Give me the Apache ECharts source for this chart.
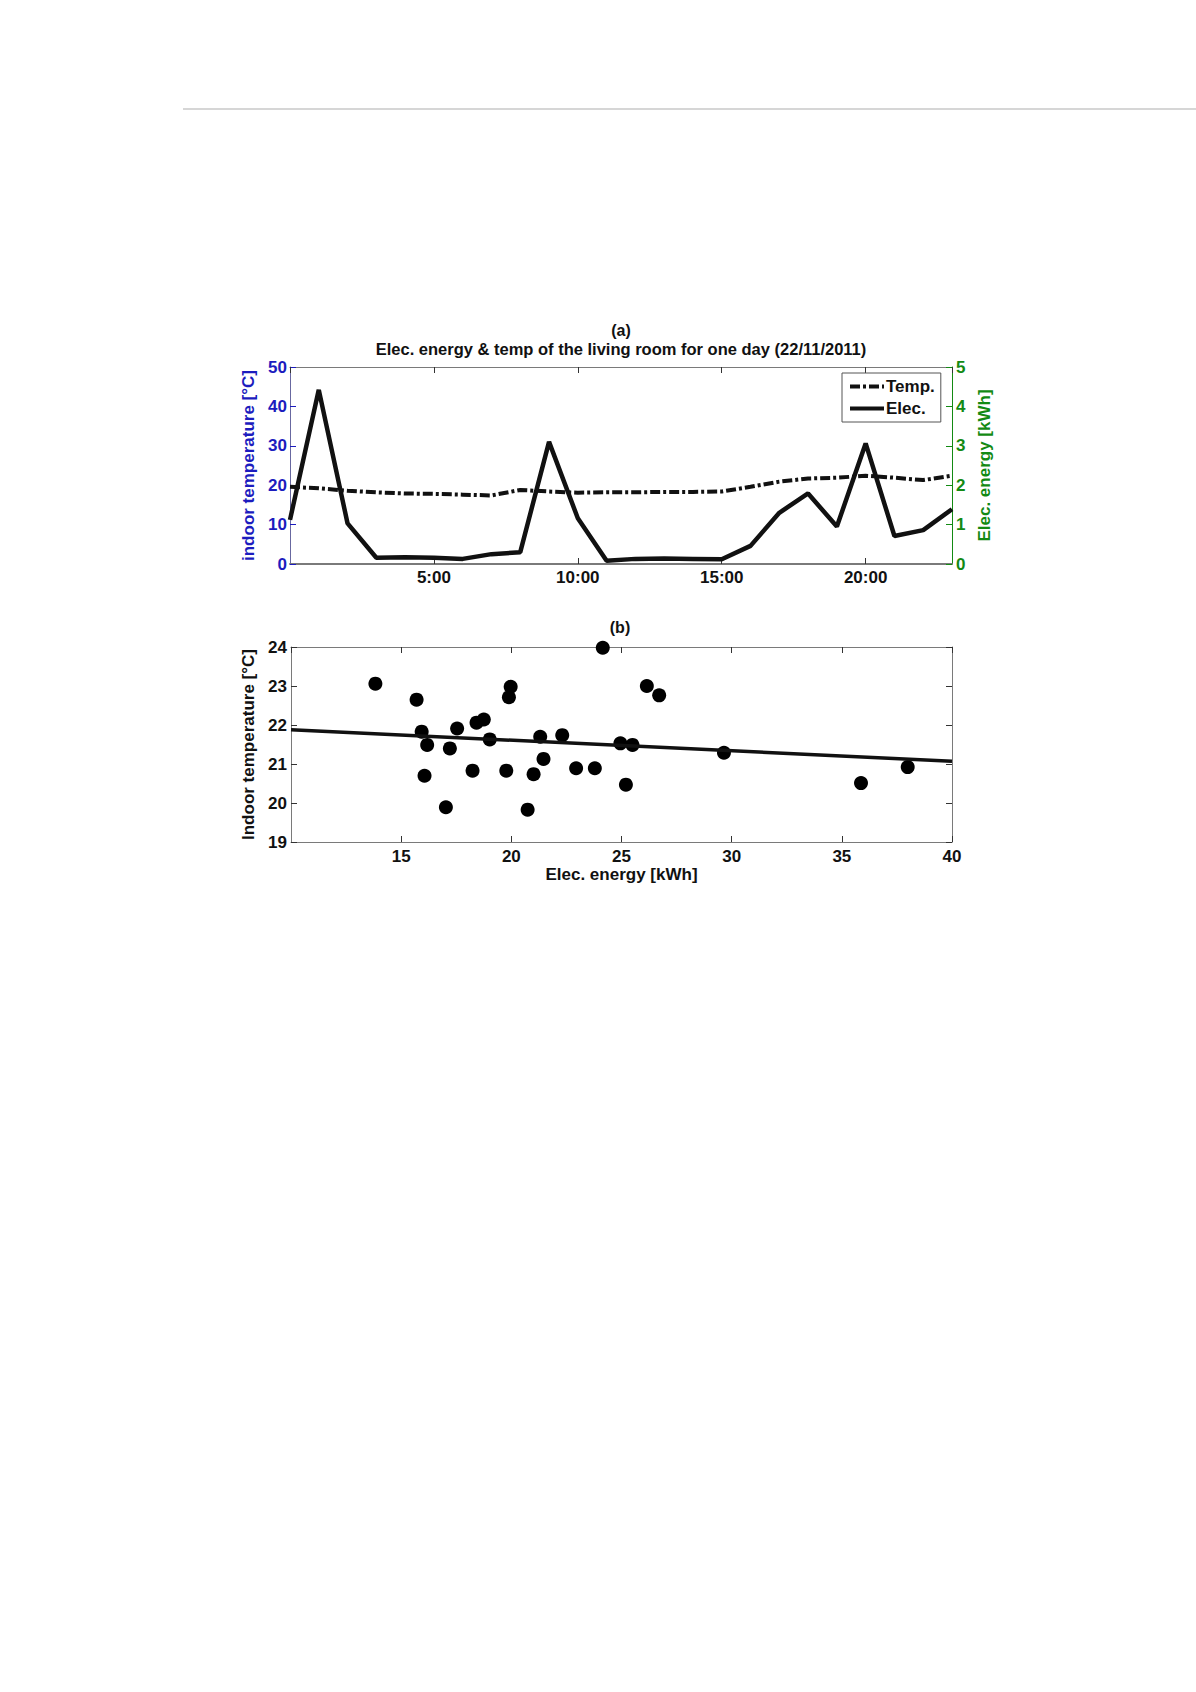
<!DOCTYPE html>
<html>
<head>
<meta charset="utf-8">
<script src="https://cdn.jsdelivr.net/npm/echarts@6/dist/echarts.min.js"></script>
<style>html,body{margin:0;padding:0;background:#fff;}#c{width:1196px;height:1692px;}</style>
</head>
<body>
<div id="c"></div>
<script>
// ---- data (a) ----
const hours = [0,1,2,3,4,5,6,7,8,9,10,11,12,13,14,15,16,17,18,19,20,21,22,23];
const tempC = [19.6,19.2,18.6,18.2,17.9,17.8,17.6,17.4,18.8,18.4,18.1,18.2,18.2,18.3,18.3,18.4,19.6,20.9,21.7,21.9,22.4,21.9,21.3,22.4];
const elecKWh = [1.12,4.42,1.03,0.16,0.17,0.16,0.13,0.25,0.30,3.10,1.16,0.08,0.13,0.14,0.13,0.12,0.46,1.30,1.79,0.95,3.06,0.71,0.86,1.39];
const hourTicks = [5,10,15,20];
// ---- data (b) ----
const energyKWh = [13.83,15.70,15.93,16.18,16.06,17.03,17.21,17.54,18.24,18.42,18.75,19.02,19.77,19.89,19.97,20.74,21.01,21.31,21.46,22.31,22.94,23.79,24.15,24.95,25.20,25.50,26.15,26.71,29.65,35.87,37.99];
const indoorTemp = [23.06,22.65,21.83,21.49,20.70,19.89,21.40,21.91,20.83,22.06,22.14,21.63,20.83,22.71,22.98,19.83,20.74,21.70,21.13,21.74,20.89,20.89,23.98,21.53,20.47,21.49,23.00,22.76,21.29,20.51,20.92];
const fitX = [10, 40];
const fitY = [21.88, 21.07];

const BLUE = '#1c1cbe', GREEN = '#138a13', FRAME = '#7a7a7a';
const FONT = 'Liberation Sans, Arial, sans-serif';

const chart = echarts.init(document.getElementById('c'), null, {renderer: 'svg'});

const lbl = (color, size) => ({color: color, fontFamily: FONT, fontWeight: 'bold', fontSize: size || 17});
const tick = (color) => ({show: true, inside: true, length: 6, lineStyle: {color: color}});
const line = (color, w) => ({show: true, onZero: false, lineStyle: {color: color, width: w || 1}});

const option = {
  backgroundColor: '#fff',
  animation: false,
  graphic: [
    {type: 'line', shape: {x1: 183, y1: 109, x2: 1196, y2: 109}, style: {stroke: '#c8c8c8', lineWidth: 1.5}},
    {type: 'text', x: 621, y: 330, style: {text: '(a)', align: 'center', verticalAlign: 'middle', fill: '#111', font: 'bold 16px ' + FONT}},
    {type: 'text', x: 621, y: 349, style: {text: 'Elec. energy & temp of the living room for one day (22/11/2011)', align: 'center', verticalAlign: 'middle', fill: '#111', font: 'bold 16.5px ' + FONT}},
    {type: 'text', x: 620, y: 627, style: {text: '(b)', align: 'center', verticalAlign: 'middle', fill: '#111', font: 'bold 16px ' + FONT}}
  ],
  legend: {
    data: ['Temp.', 'Elec.'],
    orient: 'vertical',
    left: 842, top: 373,
    itemWidth: 34, itemHeight: 14, itemGap: 5,
    padding: [5, 6, 5, 6],
    backgroundColor: '#fff',
    borderColor: '#555', borderWidth: 1,
    itemStyle: {opacity: 0},
    lineStyle: {width: 4},
    textStyle: {color: '#111', fontFamily: FONT, fontWeight: 'bold', fontSize: 17, padding: [0, 0, 0, -3]}
  },
  grid: [
    {left: 290, right: 244, top: 367, height: 197},
    {left: 291, right: 244, top: 647, height: 195}
  ],
  xAxis: [
    {gridIndex: 0, type: 'value', min: 0, max: 23, interval: 5, position: 'bottom',
     axisLine: line(FRAME, 2), axisTick: tick('#333'), splitLine: {show: false},
     axisLabel: Object.assign(lbl('#111'), {margin: 5, showMinLabel: false, showMaxLabel: false,
       formatter: v => hourTicks.includes(v) ? v + ':00' : ''})},
    {gridIndex: 0, type: 'value', min: 0, max: 23, interval: 5, position: 'top',
     axisLine: line(FRAME, 1), axisTick: tick('#333'), splitLine: {show: false}, axisLabel: {show: false}},
    {gridIndex: 1, type: 'value', min: 10, max: 40, interval: 5, position: 'bottom',
     name: 'Elec. energy [kWh]', nameLocation: 'middle', nameGap: 24,
     nameTextStyle: lbl('#111'),
     axisLine: line(FRAME, 1), axisTick: tick('#333'), splitLine: {show: false},
     axisLabel: Object.assign(lbl('#111'), {margin: 6, showMinLabel: false})},
    {gridIndex: 1, type: 'value', min: 10, max: 40, interval: 5, position: 'top',
     axisLine: line(FRAME, 1), axisTick: tick('#333'), splitLine: {show: false}, axisLabel: {show: false}}
  ],
  yAxis: [
    {gridIndex: 0, type: 'value', min: 0, max: 50, interval: 10, position: 'left',
     name: 'indoor temperature [°C]', nameLocation: 'middle', nameRotate: 90, nameGap: 24,
     nameTextStyle: lbl(BLUE),
     axisLine: line('#6868a0', 1), axisTick: tick(BLUE), splitLine: {show: false},
     axisLabel: Object.assign(lbl(BLUE), {margin: 3})},
    {gridIndex: 0, type: 'value', min: 0, max: 5, interval: 1, position: 'right',
     name: 'Elec. energy [kWh]', nameLocation: 'middle', nameRotate: 90, nameGap: 16,
     nameTextStyle: lbl(GREEN),
     axisLine: line(GREEN, 1), axisTick: tick(GREEN), splitLine: {show: false},
     axisLabel: Object.assign(lbl(GREEN), {margin: 4})},
    {gridIndex: 1, type: 'value', min: 19, max: 24, interval: 1, position: 'left',
     name: 'Indoor temperature [°C]', nameLocation: 'middle', nameRotate: 90, nameGap: 25,
     nameTextStyle: lbl('#111'),
     axisLine: line(FRAME, 1), axisTick: tick('#333'), splitLine: {show: false},
     axisLabel: Object.assign(lbl('#111'), {margin: 4})},
    {gridIndex: 1, type: 'value', min: 19, max: 24, interval: 1, position: 'right',
     axisLine: line(FRAME, 1), axisTick: tick('#333'), splitLine: {show: false}, axisLabel: {show: false}}
  ],
  series: [
    {name: 'Temp.', type: 'line', xAxisIndex: 0, yAxisIndex: 0, symbol: 'none',
     data: hours.map((h, i) => [h, tempC[i]]),
     lineStyle: {color: '#111', width: 4, type: [10, 3, 3, 3]}, itemStyle: {color: '#111'}},
    {name: 'Elec.', type: 'line', xAxisIndex: 0, yAxisIndex: 1, symbol: 'none',
     data: hours.map((h, i) => [h, elecKWh[i]]),
     lineStyle: {color: '#111', width: 4.5}, itemStyle: {color: '#111'}},
    {name: 'points', type: 'scatter', xAxisIndex: 2, yAxisIndex: 2, symbolSize: 14,
     data: energyKWh.map((x, i) => [x, indoorTemp[i]]),
     itemStyle: {color: '#000', opacity: 1}},
    {name: 'fit', type: 'line', xAxisIndex: 2, yAxisIndex: 2, symbol: 'none',
     data: fitX.map((x, i) => [x, fitY[i]]),
     lineStyle: {color: '#111', width: 3.5}}
  ]
};
chart.setOption(option);
</script>
</body>
</html>
